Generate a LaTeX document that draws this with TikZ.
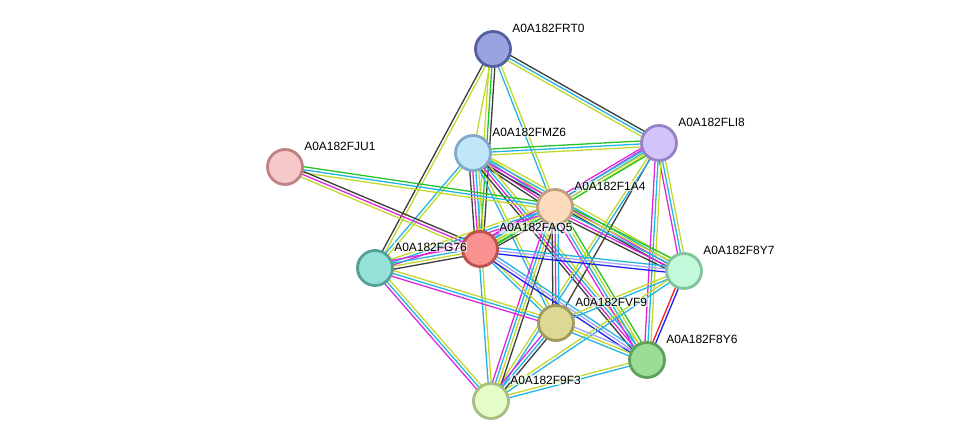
\documentclass[tikz,border=0pt]{standalone}
\usepackage{fontspec}
\setmainfont{Liberation Sans}
\usetikzlibrary{calc,backgrounds}

% evidence colours
\definecolor{yel}{RGB}{195,216,45}
\definecolor{cyn}{RGB}{35,180,225}
\definecolor{drk}{RGB}{60,60,60}
\definecolor{mag}{RGB}{220,40,220}
\definecolor{grn}{RGB}{40,195,40}
\definecolor{fus}{RGB}{240,30,30}
\definecolor{blu}{RGB}{30,30,240}
\definecolor{lav}{RGB}{165,165,250}

% node colours (fill / rim)
\definecolor{frtF}{RGB}{154,163,224} \definecolor{frtD}{RGB}{85,96,160}
\definecolor{fliF}{RGB}{210,195,250} \definecolor{fliD}{RGB}{150,130,200}
\definecolor{fmzF}{RGB}{192,230,250} \definecolor{fmzD}{RGB}{130,170,200}
\definecolor{fjuF}{RGB}{246,200,200} \definecolor{fjuD}{RGB}{190,130,130}
\definecolor{f1aF}{RGB}{253,220,190} \definecolor{f1aD}{RGB}{190,160,130}
\definecolor{faqF}{RGB}{250,145,145} \definecolor{faqD}{RGB}{190,80,80}
\definecolor{fg7F}{RGB}{150,225,215} \definecolor{fg7D}{RGB}{85,160,150}
\definecolor{fy7F}{RGB}{195,250,220} \definecolor{fy7D}{RGB}{130,195,155}
\definecolor{fvfF}{RGB}{220,217,150} \definecolor{fvfD}{RGB}{160,155,90}
\definecolor{fy6F}{RGB}{155,220,150} \definecolor{fy6D}{RGB}{95,160,90}
\definecolor{f9fF}{RGB}{228,252,198} \definecolor{f9fD}{RGB}{165,190,130}

\tikzset{
  prot/.style={circle, draw, line width=2.8bp, minimum size=35bp, inner sep=0pt},
  lbl/.style={anchor=west, font=\fontsize{12}{14}\selectfont, fill=white,
    fill opacity=0.6, text opacity=1, inner sep=0.6bp},
  wire/.style={line width=1.3bp},
}

% protein node with its label
\newcommand\prot[4]{%
  \node[prot, fill=#1F, draw=#1D] (#1) at (#2,#3) {};
  \node[lbl] (#1-l) at ($(#1)+(18.5,-21)$) {#4};}

% bundle of parallel lines between two nodes
\newcommand\link[3]{%
  \xdef\nn{0}\foreach \c in #3 {\xdef\nn{\the\numexpr\nn+1\relax}}%
  \foreach \c [count=\i] in #3 {%
    \pgfmathsetmacro\off{(\i-(\nn+1)/2)*3}%
    \draw[\c, wire] ($(#1)!\off bp!90:(#2)$) -- ($(#2)!\off bp!-90:(#1)$);}}

\begin{document}
\begin{tikzpicture}[x=1bp, y=-1bp]
  \useasboundingbox (0,0) rectangle (976,447);

  % proteins
  \prot{frt}{493}{49}{A0A182FRT0}
  \prot{fli}{659}{143}{A0A182FLI8}
  \prot{fmz}{473}{153}{A0A182FMZ6}
  \prot{fju}{285}{167}{A0A182FJU1}
  \prot{f1a}{555}{207}{A0A182F1A4}
  \prot{faq}{480}{249}{A0A182FAQ5}
  \prot{fg7}{375}{268}{A0A182FG76}
  \prot{fy7}{684}{271}{A0A182F8Y7}
  \prot{fvf}{556}{323}{A0A182FVF9}
  \prot{fy6}{647}{360}{A0A182F8Y6}
  \prot{f9f}{491}{401}{A0A182F9F3}

  % interactions
  \begin{scope}[on background layer]
    \foreach \a/\b/\cs in {
      frt/fli/{yel,cyn,drk}, frt/fg7/{drk,yel}, frt/faq/{yel,grn,drk},
      frt/fmz/{yel}, frt/f1a/{cyn,yel},
      fmz/fli/{yel,cyn,grn}, fmz/f1a/{drk,mag,cyn,yel}, fmz/faq/{drk,mag,cyn,yel},
      fmz/fg7/{cyn,yel}, fmz/fy7/{drk,mag,cyn,yel}, fmz/fvf/{cyn,yel},
      fmz/fy6/{drk,mag,cyn,yel},
      fju/f1a/{yel,cyn,grn}, fju/faq/{yel,mag,drk},
      fli/f1a/{mag,cyn,yel}, fli/faq/{mag,cyn,yel,grn}, fli/fy7/{mag,cyn,yel},
      fli/fy6/{mag,cyn,yel}, fli/fvf/{drk}, fli/f9f/{yel,cyn},
      f1a/faq/{mag,cyn,yel,grn,drk}, f1a/fg7/{yel,cyn,mag},
      f1a/fy7/{drk,mag,cyn,yel,grn}, f1a/fvf/{drk,mag,cyn},
      f1a/fy6/{mag,cyn,yel,grn}, f1a/f9f/{mag,cyn,yel,drk},
      faq/fg7/{mag,cyn,yel,drk}, faq/fy7/{blu,lav,cyn}, faq/fvf/{cyn,yel},
      faq/fy6/{blu,lav,cyn}, faq/f9f/{cyn,yel},
      fg7/fvf/{mag,cyn,yel}, fg7/f9f/{mag,cyn,yel},
      fy7/fy6/{fus,blu}, fy7/fvf/{yel,cyn}, fy7/f9f/{yel,cyn},
      fvf/fy6/{cyn,yel,lav}, fvf/f9f/{mag,cyn,drk}, fy6/f9f/{yel,cyn}}
      {\link{\a}{\b}{\cs}}
  \end{scope}
\end{tikzpicture}
\end{document}
